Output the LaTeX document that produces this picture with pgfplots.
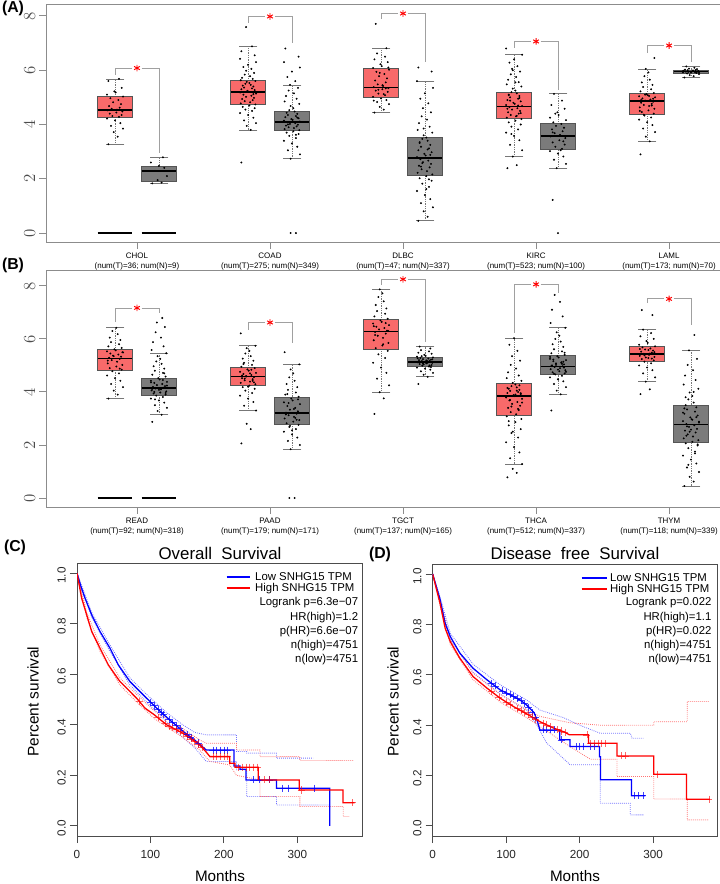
\documentclass[border=0pt]{standalone}
\usepackage{fontspec}
\setmainfont{Liberation Sans}
\usepackage{pgfplots}
\pgfplotsset{compat=1.18}

\definecolor{tumor}{HTML}{F86A6A}
\definecolor{normal}{HTML}{7B7B7B}
\definecolor{boxline}{HTML}{555555}
\definecolor{frame}{HTML}{8C8C8C}
\definecolor{brk}{HTML}{A0A0A0}

% box: xl xc xr | lower whisker, q1, median, q3, upper whisker | fill
\newcommand{\bx}[9]{%
  \addplot[boxline!80, densely dotted, line width=0.5pt] coordinates {(#2,#4) (#2,#5)};
  \addplot[boxline!80, densely dotted, line width=0.5pt] coordinates {(#2,#7) (#2,#8)};
  \addplot[boxline!80, only marks, mark=-, mark size=8pt, mark options={line width=0.6pt}] coordinates {(#2,#4) (#2,#8)};
  \addplot[draw=boxline, fill=#9, line width=0.6pt] coordinates {(#1,#5) (#3,#5) (#3,#7) (#1,#7)} --cycle;
  \addplot[black, line width=1.5pt] coordinates {(#1,#6) (#3,#6)};
}
% jittered samples: centre, table of offsets d and values v
\newcommand{\jit}[2]{\addplot[only marks, mark=*, mark size=0.6pt, black] table[row sep=\\, x expr=\thisrow{d}+#1, y=v] {#2};}
% significance bracket: tumour x, gap left, centre, gap right, normal x, top, left foot, right foot
\newcommand{\brk}[8]{%
  \addplot[brk, line width=0.7pt] coordinates {(#1,#7) (#1,#6) (#2,#6)};
  \addplot[brk, line width=0.7pt] coordinates {(#4,#6) (#5,#6) (#5,#8)};
  \addplot[red, only marks, mark=asterisk, mark size=2.8pt, mark options={line width=0.8pt}] coordinates {(#3,#6)};
}
\newcommand{\zl}[2]{\addplot[black, line width=1.6pt] coordinates {(#1,0) (#2,0)};}

\pgfplotsset{
  boxpanel/.style={
    scale only axis, width=20.28cm,
    xmin=0.316, xmax=5.398,
    axis line style={frame, line width=0.8pt},
    tick style={frame, line width=0.8pt},
    tick align=outside, tick pos=left, major tick length=0.2cm,
    xtick={1,2,3,4,5},
    ytick={0,2,4,6,8}, yticklabels={$0$,$2$,$4$,$6$,$8$},
    yticklabel style={rotate=90, anchor=south, font=\fontsize{15}{15}\selectfont, text=black!70},
    xticklabel style={align=center, font=\fontsize{6.8}{8.5}\selectfont},
    clip=false,
  },
  kmpanel/.style={
    scale only axis, width=8.55cm, height=8.19cm,
    xmin=0, xmax=388, ymin=-0.04, ymax=1.04,
    axis line style={black!70, line width=0.8pt},
    tick style={black!70, line width=0.8pt},
    tick align=outside, tick pos=left, major tick length=0.21cm,
    xtick={0,100,200,300}, xticklabels={0,100,200,300},
    ytick={0,0.2,0.4,0.6,0.8,1}, yticklabels={0.0,0.2,0.4,0.6,0.8,1.0},
    yticklabel style={rotate=90, anchor=south, xshift=-2pt},
    xticklabel style={yshift=-3pt},
    ticklabel style={font=\fontsize{10}{10}\selectfont, text=black!85},
  },
}

\begin{document}
\begin{tikzpicture}
\useasboundingbox (0,0) rectangle (21.6,-26.52);

% ============================== (A)
\begin{axis}[boxpanel, height=7.14cm, ymin=-0.33, ymax=8.44,
    at={(1.38cm,-7.26cm)}, anchor=south west,
    xticklabels={{CHOL\\(num(T)=36; num(N)=9)},{COAD\\(num(T)=275; num(N)=349)},{DLBC\\(num(T)=47; num(N)=337)},{KIRC\\(num(T)=523; num(N)=100)},{LAML\\(num(T)=173; num(N)=70)}}]
\bx{0.705}{0.835}{0.965}{3.27}{4.27}{4.54}{5.03}{5.68}{tumor}
\bx{1.035}{1.165}{1.295}{1.83}{1.89}{2.29}{2.47}{2.79}{normal}
\bx{1.705}{1.835}{1.965}{3.80}{4.75}{5.21}{5.63}{6.88}{tumor}
\bx{2.035}{2.165}{2.295}{2.74}{3.78}{4.08}{4.48}{5.46}{normal}
\bx{2.705}{2.835}{2.965}{4.44}{5.00}{5.36}{6.07}{6.81}{tumor}
\bx{3.035}{3.165}{3.295}{0.45}{2.14}{2.76}{3.52}{5.60}{normal}
\bx{3.705}{3.835}{3.965}{2.82}{4.21}{4.66}{5.18}{6.57}{tumor}
\bx{4.035}{4.165}{4.295}{2.39}{3.09}{3.57}{4.05}{5.13}{normal}
\bx{4.705}{4.835}{4.965}{3.38}{4.38}{4.87}{5.15}{6.05}{tumor}
\bx{5.035}{5.165}{5.295}{5.73}{5.89}{5.95}{6.01}{6.14}{normal}
% CHOL
\jit{0.835}{d v\\ -0.05 3.27\\ 0.02 3.55\\ -0.01 3.72\\ 0.06 3.85\\ -0.03 3.95\\ 0.04 4.05\\ 0.00 4.15\\ -0.06 4.22\\ 0.03 4.28\\ -0.02 4.31\\
0.05 4.35\\ -0.04 4.40\\ 0.01 4.44\\ 0.055 4.48\\ -0.055 4.52\\ 0.015 4.55\\ -0.025 4.58\\ 0.035 4.62\\ -0.045 4.68\\ 0.045 4.75\\
-0.015 4.82\\ 0.025 4.90\\ -0.035 4.97\\ 0.06 5.03\\ -0.06 5.10\\ 0.005 5.18\\ -0.005 5.22\\ 0.05 5.35\\ -0.05 5.60\\ 0.03 5.68\\}
\jit{1.165}{d v\\ -0.05 1.83\\ 0.02 1.86\\ -0.01 1.95\\ 0.06 2.10\\ -0.03 2.29\\ 0.04 2.40\\ 0.00 2.47\\ -0.06 2.60\\ 0.03 2.79\\}
% COAD
\jit{1.835}{d v\\ -0.05 2.60\\ 0.02 3.80\\ -0.01 3.95\\ 0.06 4.05\\ -0.03 4.15\\ 0.04 4.25\\ 0.00 4.35\\ -0.06 4.42\\ 0.03 4.50\\ -0.02 4.55\\
0.05 4.60\\ -0.04 4.65\\ 0.01 4.70\\ 0.055 4.74\\ -0.055 4.78\\ 0.015 4.82\\ -0.025 4.86\\ 0.035 4.90\\ -0.045 4.94\\ 0.045 4.98\\
-0.015 5.02\\ 0.025 5.06\\ -0.035 5.10\\ 0.06 5.14\\ -0.06 5.18\\ 0.005 5.21\\ -0.005 5.24\\ 0.05 5.27\\ -0.05 5.30\\ 0.03 5.33\\
-0.03 5.36\\ 0.04 5.40\\ -0.04 5.43\\ 0.02 5.46\\ -0.02 5.50\\ 0.01 5.53\\ -0.01 5.57\\ 0.055 5.60\\ -0.055 5.63\\ 0.035 5.68\\
-0.045 5.72\\ 0.015 5.78\\ -0.025 5.84\\ 0.045 5.90\\ -0.015 5.98\\ 0.025 6.05\\ -0.035 6.12\\ 0.00 6.20\\ 0.06 6.30\\ -0.06 6.42\\
0.05 6.55\\ -0.05 6.70\\ 0.03 6.88\\ -0.015 7.59\\ 0.04 5.12\\}
\jit{2.165}{d v\\ -0.01 0\\ 0.03 0\\ -0.01 2.74\\ 0.06 2.90\\ -0.03 3.05\\ 0.04 3.18\\ 0.00 3.30\\ -0.06 3.40\\ 0.03 3.50\\ -0.02 3.58\\
0.05 3.65\\ -0.04 3.70\\ 0.01 3.75\\ 0.055 3.79\\ -0.055 3.83\\ 0.015 3.87\\ -0.025 3.90\\ 0.035 3.93\\ -0.045 3.96\\ 0.045 3.99\\
-0.015 4.02\\ 0.025 4.05\\ -0.035 4.08\\ 0.06 4.11\\ -0.06 4.14\\ 0.005 4.17\\ -0.005 4.20\\ 0.05 4.23\\ -0.05 4.27\\ 0.03 4.31\\
-0.03 4.35\\ 0.04 4.39\\ -0.04 4.43\\ 0.02 4.48\\ -0.02 4.53\\ 0.01 4.60\\ -0.01 4.68\\ 0.055 4.76\\ -0.055 4.85\\ 0.035 4.95\\
-0.045 5.05\\ 0.015 5.15\\ -0.025 5.25\\ 0.045 5.35\\ -0.015 5.46\\ 0.025 5.60\\ -0.035 5.75\\ 0.00 5.95\\ 0.06 6.10\\ -0.06 6.30\\
0.05 6.50\\ -0.05 6.80\\ 0.03 3.62\\ -0.03 4.00\\ 0.04 4.25\\}
% DLBC
\jit{2.835}{d v\\ -0.05 4.44\\ 0.02 4.55\\ -0.01 4.65\\ 0.06 4.75\\ -0.03 4.83\\ 0.04 4.90\\ 0.00 4.96\\ -0.06 5.02\\ 0.03 5.08\\ -0.02 5.14\\
0.05 5.20\\ -0.04 5.25\\ 0.01 5.30\\ 0.055 5.34\\ -0.055 5.38\\ 0.015 5.42\\ -0.025 5.48\\ 0.035 5.55\\ -0.045 5.62\\ 0.045 5.70\\
-0.015 5.78\\ 0.025 5.86\\ -0.035 5.94\\ 0.06 6.02\\ -0.06 6.08\\ 0.005 6.15\\ -0.005 6.22\\ 0.05 6.30\\ -0.05 6.40\\ 0.03 6.50\\
-0.03 6.62\\ 0.04 6.81\\ -0.04 7.71\\ 0.02 5.12\\ -0.02 5.28\\ 0.01 5.45\\ -0.01 5.90\\ 0.055 6.10\\ -0.055 4.88\\ 0.035 5.33\\}
\jit{3.165}{d v\\ -0.05 0.45\\ 0.02 0.60\\ -0.01 0.80\\ 0.06 0.95\\ -0.03 1.10\\ 0.04 1.25\\ 0.00 1.40\\ -0.06 1.55\\ 0.03 1.70\\ -0.02 1.82\\
0.05 1.93\\ -0.04 2.02\\ 0.01 2.10\\ 0.055 2.16\\ -0.055 2.22\\ 0.015 2.28\\ -0.025 2.35\\ 0.035 2.42\\ -0.045 2.48\\ 0.045 2.55\\
-0.015 2.61\\ 0.025 2.67\\ -0.035 2.72\\ 0.06 2.76\\ -0.06 2.80\\ 0.005 2.86\\ -0.005 2.92\\ 0.05 2.98\\ -0.05 3.05\\ 0.03 3.12\\
-0.03 3.18\\ 0.04 3.25\\ -0.04 3.32\\ 0.02 3.40\\ -0.02 3.47\\ 0.01 3.52\\ -0.01 3.60\\ 0.055 3.70\\ -0.055 3.80\\ 0.035 3.92\\
-0.045 4.05\\ 0.015 4.18\\ -0.025 4.30\\ 0.045 4.45\\ -0.015 4.60\\ 0.025 4.78\\ -0.035 4.95\\ 0.00 5.15\\ 0.06 5.35\\ -0.06 5.60\\
0.05 5.95\\ -0.05 6.10\\ 0.03 1.98\\ -0.03 2.45\\ 0.04 2.88\\ -0.04 3.35\\ 0.02 3.08\\ -0.02 2.58\\ 0.01 1.62\\ -0.01 3.85\\}
% KIRC
\jit{3.835}{d v\\ -0.05 2.39\\ 0.02 2.50\\ -0.01 2.82\\ 0.06 3.05\\ -0.03 3.25\\ 0.04 3.42\\ 0.00 3.58\\ -0.06 3.70\\ 0.03 3.82\\ -0.02 3.92\\
0.05 4.00\\ -0.04 4.08\\ 0.01 4.14\\ 0.055 4.20\\ -0.055 4.25\\ 0.015 4.30\\ -0.025 4.35\\ 0.035 4.40\\ -0.045 4.45\\ 0.045 4.50\\
-0.015 4.55\\ 0.025 4.60\\ -0.035 4.64\\ 0.06 4.68\\ -0.06 4.72\\ 0.005 4.76\\ -0.005 4.80\\ 0.05 4.85\\ -0.05 4.90\\ 0.03 4.95\\
-0.03 5.00\\ 0.04 5.05\\ -0.04 5.10\\ 0.02 5.15\\ -0.02 5.19\\ 0.01 5.25\\ -0.01 5.32\\ 0.055 5.40\\ -0.055 5.48\\ 0.035 5.56\\
-0.045 5.65\\ 0.015 5.75\\ -0.025 5.85\\ 0.045 5.95\\ -0.015 6.05\\ 0.025 6.15\\ -0.035 6.28\\ 0.00 6.40\\ 0.06 6.57\\ -0.06 6.80\\
0.05 4.42\\ -0.05 4.58\\ 0.03 4.70\\ -0.03 4.88\\ 0.04 4.98\\ -0.04 5.08\\ 0.02 4.32\\ -0.02 3.65\\ 0.01 5.55\\ -0.01 6.00\\}
\jit{4.165}{d v\\ 0.00 0.00\\ -0.04 1.22\\ -0.01 2.39\\ 0.06 2.55\\ -0.03 2.70\\ 0.04 2.82\\ 0.00 2.93\\ -0.06 3.02\\ 0.03 3.10\\ -0.02 3.18\\
0.05 3.26\\ -0.04 3.34\\ 0.01 3.42\\ 0.055 3.50\\ -0.055 3.56\\ 0.015 3.62\\ -0.025 3.68\\ 0.035 3.75\\ -0.045 3.82\\ 0.045 3.88\\
-0.015 3.95\\ 0.025 4.02\\ -0.035 4.08\\ 0.06 4.16\\ -0.06 4.25\\ 0.005 4.35\\ -0.005 4.45\\ 0.05 4.58\\ -0.05 4.72\\ 0.03 4.88\\
-0.03 5.13\\ 0.04 3.38\\ -0.04 3.71\\ 0.02 3.05\\ -0.02 4.40\\}
% LAML
\jit{4.835}{d v\\ -0.05 2.90\\ 0.02 3.38\\ -0.01 3.55\\ 0.06 3.72\\ -0.03 3.85\\ 0.04 3.98\\ 0.00 4.08\\ -0.06 4.18\\ 0.03 4.26\\ -0.02 4.33\\
0.05 4.40\\ -0.04 4.46\\ 0.01 4.52\\ 0.055 4.58\\ -0.055 4.63\\ 0.015 4.68\\ -0.025 4.72\\ 0.035 4.76\\ -0.045 4.80\\ 0.045 4.84\\
-0.015 4.88\\ 0.025 4.92\\ -0.035 4.96\\ 0.06 5.00\\ -0.06 5.04\\ 0.005 5.08\\ -0.005 5.12\\ 0.05 5.16\\ -0.05 5.22\\ 0.03 5.30\\
-0.03 5.38\\ 0.04 5.46\\ -0.04 5.55\\ 0.02 5.65\\ -0.02 5.78\\ 0.01 5.92\\ -0.01 6.05\\ 0.055 6.45\\ -0.055 4.50\\ 0.035 4.70\\
-0.045 4.90\\ 0.015 5.05\\ -0.025 4.36\\ 0.045 4.95\\ -0.015 5.10\\}
\jit{5.165}{d v\\ -0.05 5.73\\ 0.02 5.78\\ -0.01 5.82\\ 0.06 5.86\\ -0.03 5.88\\ 0.04 5.90\\ 0.00 5.91\\ -0.06 5.92\\ 0.03 5.93\\ -0.02 5.94\\
0.05 5.95\\ -0.04 5.95\\ 0.01 5.96\\ 0.055 5.97\\ -0.055 5.98\\ 0.015 5.99\\ -0.025 6.00\\ 0.035 6.01\\ -0.045 6.02\\ 0.045 6.04\\
-0.015 6.06\\ 0.025 6.09\\ -0.035 6.14\\ 0.06 5.93\\ -0.06 5.97\\}
\zl{0.705}{0.965}
\zl{1.035}{1.295}
\brk{0.835}{0.965}{1}{1.035}{1.165}{6.08}{5.83}{2.94}
\brk{1.835}{1.965}{2}{2.035}{2.165}{7.98}{7.74}{7.00}
\brk{2.835}{2.965}{3}{3.035}{3.165}{8.09}{7.89}{6.32}
\brk{3.835}{3.965}{4}{4.035}{4.165}{7.06}{6.82}{5.28}
\brk{4.835}{4.965}{5}{5.035}{5.165}{6.91}{6.63}{6.32}
\end{axis}

% ============================== (B)
\begin{axis}[boxpanel, height=7.11cm, ymin=-0.34, ymax=8.6,
    at={(1.38cm,-15.21cm)}, anchor=south west,
    xticklabels={{READ\\(num(T)=92; num(N)=318)},{PAAD\\(num(T)=179; num(N)=171)},{TGCT\\(num(T)=137; num(N)=165)},{THCA\\(num(T)=512; num(N)=337)},{THYM\\(num(T)=118; num(N)=339)}}]
\bx{0.705}{0.835}{0.965}{3.75}{4.81}{5.26}{5.61}{6.42}{tumor}
\bx{1.035}{1.165}{1.295}{3.14}{3.86}{4.15}{4.52}{5.46}{normal}
\bx{1.705}{1.835}{1.965}{3.30}{4.24}{4.58}{4.92}{5.74}{tumor}
\bx{2.035}{2.165}{2.295}{1.84}{2.79}{3.21}{3.81}{5.04}{normal}
\bx{2.705}{2.835}{2.965}{3.99}{5.61}{6.28}{6.74}{7.87}{tumor}
\bx{3.035}{3.165}{3.295}{4.57}{4.96}{5.14}{5.30}{5.71}{normal}
\bx{3.705}{3.835}{3.965}{1.28}{3.11}{3.85}{4.33}{6.03}{tumor}
\bx{4.035}{4.165}{4.295}{3.91}{4.65}{4.96}{5.38}{6.42}{normal}
\bx{4.705}{4.835}{4.965}{4.39}{5.17}{5.42}{5.71}{6.35}{tumor}
\bx{5.035}{5.165}{5.295}{0.45}{2.11}{2.77}{3.51}{5.57}{normal}
% READ
\jit{0.835}{d v\\ -0.05 3.75\\ 0.02 3.90\\ -0.01 4.05\\ 0.06 4.18\\ -0.03 4.30\\ 0.04 4.42\\ 0.00 4.52\\ -0.06 4.62\\ 0.03 4.70\\ -0.02 4.78\\
0.05 4.84\\ -0.04 4.90\\ 0.01 4.96\\ 0.055 5.02\\ -0.055 5.08\\ 0.015 5.14\\ -0.025 5.20\\ 0.035 5.25\\ -0.045 5.29\\ 0.045 5.33\\
-0.015 5.37\\ 0.025 5.41\\ -0.035 5.45\\ 0.06 5.49\\ -0.06 5.53\\ 0.005 5.57\\ -0.005 5.61\\ 0.05 5.66\\ -0.05 5.72\\ 0.03 5.80\\
-0.03 5.88\\ 0.04 5.96\\ -0.04 6.05\\ 0.02 6.18\\ -0.02 6.30\\ 0.01 6.42\\ -0.01 5.35\\ 0.055 5.50\\ -0.055 5.18\\ 0.035 4.88\\}
\jit{1.165}{d v\\ -0.05 2.87\\ 0.02 3.14\\ -0.01 3.28\\ 0.06 3.40\\ -0.03 3.50\\ 0.04 3.60\\ 0.00 3.68\\ -0.06 3.75\\ 0.03 3.81\\ -0.02 3.86\\
0.05 3.90\\ -0.04 3.94\\ 0.01 3.98\\ 0.055 4.02\\ -0.055 4.06\\ 0.015 4.10\\ -0.025 4.13\\ 0.035 4.16\\ -0.045 4.19\\ 0.045 4.22\\
-0.015 4.26\\ 0.025 4.30\\ -0.035 4.34\\ 0.06 4.38\\ -0.06 4.42\\ 0.005 4.47\\ -0.005 4.52\\ 0.05 4.58\\ -0.05 4.65\\ 0.03 4.72\\
-0.03 4.80\\ 0.04 4.88\\ -0.04 4.97\\ 0.02 5.06\\ -0.02 5.15\\ 0.01 5.25\\ -0.01 5.35\\ 0.055 5.46\\ -0.055 5.58\\ 0.035 5.72\\
-0.045 5.88\\ 0.015 6.05\\ -0.025 6.25\\ 0.045 6.45\\ -0.015 6.62\\ 0.025 6.79\\ -0.035 4.00\\ 0.00 4.08\\ 0.06 4.24\\ -0.06 4.36\\
0.05 3.96\\ -0.05 4.12\\ 0.03 4.45\\ -0.03 3.72\\ 0.04 4.70\\}
% PAAD
\jit{1.835}{d v\\ -0.05 2.06\\ 0.02 2.60\\ -0.01 2.80\\ 0.06 3.30\\ -0.03 3.48\\ 0.04 3.62\\ 0.00 3.75\\ -0.06 3.86\\ 0.03 3.96\\ -0.02 4.05\\
0.05 4.12\\ -0.04 4.18\\ 0.01 4.24\\ 0.055 4.29\\ -0.055 4.34\\ 0.015 4.39\\ -0.025 4.44\\ 0.035 4.48\\ -0.045 4.52\\ 0.045 4.56\\
-0.015 4.60\\ 0.025 4.64\\ -0.035 4.68\\ 0.06 4.72\\ -0.06 4.76\\ 0.005 4.80\\ -0.005 4.85\\ 0.05 4.90\\ -0.05 4.95\\ 0.03 5.02\\
-0.03 5.10\\ 0.04 5.18\\ -0.04 5.26\\ 0.02 5.35\\ -0.02 5.45\\ 0.01 5.55\\ -0.01 5.65\\ 0.055 5.74\\ -0.055 6.21\\ 0.035 4.42\\
-0.045 4.62\\ 0.015 4.70\\ -0.025 4.50\\ 0.045 4.36\\ -0.015 4.58\\ 0.025 4.84\\ -0.035 5.05\\ 0.00 4.20\\}
\jit{2.165}{d v\\ -0.02 0\\ 0.02 0\\ -0.01 1.84\\ 0.06 2.00\\ -0.03 2.15\\ 0.04 2.28\\ 0.00 2.40\\ -0.06 2.50\\ 0.03 2.60\\ -0.02 2.68\\
0.05 2.76\\ -0.04 2.82\\ 0.01 2.88\\ 0.055 2.94\\ -0.055 3.00\\ 0.015 3.06\\ -0.025 3.12\\ 0.035 3.18\\ -0.045 3.22\\ 0.045 3.27\\
-0.015 3.33\\ 0.025 3.40\\ -0.035 3.47\\ 0.06 3.54\\ -0.06 3.61\\ 0.005 3.68\\ -0.005 3.75\\ 0.05 3.82\\ -0.05 3.90\\ 0.03 3.98\\
-0.03 4.08\\ 0.04 4.18\\ -0.04 4.30\\ 0.02 4.42\\ -0.02 4.55\\ 0.01 4.70\\ -0.01 4.85\\ 0.055 5.04\\ -0.055 5.50\\ 0.035 2.95\\
-0.045 3.15\\ 0.015 3.36\\ -0.025 3.58\\ 0.045 3.72\\ -0.015 2.72\\ 0.025 3.02\\ -0.035 3.92\\ 0.00 2.55\\}
% TGCT
\jit{2.835}{d v\\ -0.05 3.17\\ 0.02 3.76\\ -0.01 3.99\\ 0.06 4.25\\ -0.03 4.50\\ 0.04 4.72\\ 0.00 4.92\\ -0.06 5.10\\ 0.03 5.28\\ -0.02 5.42\\
0.05 5.55\\ -0.04 5.65\\ 0.01 5.75\\ 0.055 5.85\\ -0.055 5.95\\ 0.015 6.04\\ -0.025 6.12\\ 0.035 6.20\\ -0.045 6.26\\ 0.045 6.31\\
-0.015 6.36\\ 0.025 6.41\\ -0.035 6.46\\ 0.06 6.52\\ -0.06 6.58\\ 0.005 6.64\\ -0.005 6.70\\ 0.05 6.76\\ -0.05 6.85\\ 0.03 6.95\\
-0.03 7.05\\ 0.04 7.15\\ -0.04 7.28\\ 0.02 7.42\\ -0.02 7.58\\ 0.01 7.72\\ -0.01 7.87\\ 0.055 6.30\\ -0.055 6.48\\ 0.035 6.60\\
-0.045 6.15\\ 0.015 5.80\\}
\jit{3.165}{d v\\ -0.05 4.30\\ 0.02 4.57\\ -0.01 4.65\\ 0.06 4.72\\ -0.03 4.78\\ 0.04 4.84\\ 0.00 4.88\\ -0.06 4.92\\ 0.03 4.96\\ -0.02 4.99\\
0.05 5.02\\ -0.04 5.05\\ 0.01 5.08\\ 0.055 5.10\\ -0.055 5.12\\ 0.015 5.14\\ -0.025 5.16\\ 0.035 5.18\\ -0.045 5.20\\ 0.045 5.22\\
-0.015 5.24\\ 0.025 5.26\\ -0.035 5.28\\ 0.06 5.30\\ -0.06 5.33\\ 0.005 5.36\\ -0.005 5.40\\ 0.05 5.44\\ -0.05 5.48\\ 0.03 5.53\\
-0.03 5.58\\ 0.04 5.64\\ -0.04 5.71\\ 0.02 5.10\\ -0.02 5.15\\ 0.01 5.19\\ -0.01 5.04\\ 0.055 5.23\\ -0.055 5.27\\ 0.035 5.00\\
-0.045 5.12\\ 0.015 5.17\\ -0.025 5.35\\ 0.045 4.94\\ -0.015 5.07\\}
% THCA
\jit{3.835}{d v\\ -0.05 0.78\\ 0.02 0.95\\ -0.01 1.10\\ 0.06 1.28\\ -0.03 1.50\\ 0.04 1.72\\ 0.00 1.92\\ -0.06 2.10\\ 0.03 2.28\\ -0.02 2.45\\
0.05 2.60\\ -0.04 2.74\\ 0.01 2.86\\ 0.055 2.98\\ -0.055 3.08\\ 0.015 3.16\\ -0.025 3.24\\ 0.035 3.32\\ -0.045 3.40\\ 0.045 3.48\\
-0.015 3.55\\ 0.025 3.62\\ -0.035 3.68\\ 0.06 3.74\\ -0.06 3.79\\ 0.005 3.84\\ -0.005 3.88\\ 0.05 3.92\\ -0.05 3.96\\ 0.03 4.00\\
-0.03 4.04\\ 0.04 4.08\\ -0.04 4.12\\ 0.02 4.17\\ -0.02 4.22\\ 0.01 4.28\\ -0.01 4.34\\ 0.055 4.42\\ -0.055 4.52\\ 0.035 4.62\\
-0.045 4.74\\ 0.015 4.88\\ -0.025 5.02\\ 0.045 5.18\\ -0.015 5.35\\ 0.025 5.55\\ -0.035 5.78\\ 0.00 6.03\\ 0.06 3.60\\ -0.06 3.82\\
0.05 3.95\\ -0.05 4.15\\ 0.03 3.36\\ -0.03 3.70\\ 0.04 4.25\\ -0.04 2.90\\ 0.02 4.05\\ -0.02 3.45\\ 0.01 3.90\\ -0.01 2.50\\}
\jit{4.165}{d v\\ -0.05 3.30\\ 0.02 3.91\\ -0.01 4.05\\ 0.06 4.18\\ -0.03 4.30\\ 0.04 4.40\\ 0.00 4.48\\ -0.06 4.55\\ 0.03 4.61\\ -0.02 4.66\\
0.05 4.70\\ -0.04 4.74\\ 0.01 4.78\\ 0.055 4.82\\ -0.055 4.86\\ 0.015 4.90\\ -0.025 4.94\\ 0.035 4.97\\ -0.045 5.00\\ 0.045 5.04\\
-0.015 5.08\\ 0.025 5.12\\ -0.035 5.16\\ 0.06 5.20\\ -0.06 5.25\\ 0.005 5.30\\ -0.005 5.35\\ 0.05 5.40\\ -0.05 5.46\\ 0.03 5.53\\
-0.03 5.61\\ 0.04 5.70\\ -0.04 5.80\\ 0.02 5.90\\ -0.02 6.00\\ 0.01 6.12\\ -0.01 6.25\\ 0.055 6.42\\ -0.055 6.60\\ 0.035 6.85\\
-0.045 7.10\\ 0.015 7.40\\ -0.025 7.66\\ 0.045 4.92\\ -0.015 5.02\\ 0.025 5.10\\ -0.035 5.22\\ 0.00 4.84\\ 0.06 4.76\\ -0.06 5.32\\
0.05 5.48\\ -0.05 4.98\\ 0.03 5.06\\ -0.03 4.68\\ 0.04 5.14\\}
% THYM
\jit{4.835}{d v\\ -0.05 3.92\\ 0.02 4.10\\ -0.01 4.39\\ 0.06 4.55\\ -0.03 4.70\\ 0.04 4.82\\ 0.00 4.92\\ -0.06 5.00\\ 0.03 5.08\\ -0.02 5.14\\
0.05 5.19\\ -0.04 5.24\\ 0.01 5.28\\ 0.055 5.32\\ -0.055 5.36\\ 0.015 5.40\\ -0.025 5.44\\ 0.035 5.48\\ -0.045 5.52\\ 0.045 5.56\\
-0.015 5.60\\ 0.025 5.64\\ -0.035 5.68\\ 0.06 5.72\\ -0.06 5.78\\ 0.005 5.85\\ -0.005 5.92\\ 0.05 6.00\\ -0.05 6.10\\ 0.03 6.22\\
-0.03 6.35\\ 0.04 6.90\\ -0.04 7.09\\ 0.02 5.45\\ -0.02 5.38\\ 0.01 5.58\\ -0.01 5.30\\ 0.055 5.50\\ -0.055 5.62\\ 0.035 5.26\\}
\jit{5.165}{d v\\ -0.05 0.45\\ 0.02 0.62\\ -0.01 0.80\\ 0.06 0.98\\ -0.03 1.15\\ 0.04 1.30\\ 0.00 1.45\\ -0.06 1.60\\ 0.03 1.75\\ -0.02 1.88\\
0.05 1.98\\ -0.04 2.06\\ 0.01 2.12\\ 0.055 2.18\\ -0.055 2.25\\ 0.015 2.32\\ -0.025 2.40\\ 0.035 2.47\\ -0.045 2.54\\ 0.045 2.61\\
-0.015 2.68\\ 0.025 2.74\\ -0.035 2.79\\ 0.06 2.84\\ -0.06 2.90\\ 0.005 2.97\\ -0.005 3.04\\ 0.05 3.11\\ -0.05 3.18\\ 0.03 3.26\\
-0.03 3.34\\ 0.04 3.42\\ -0.04 3.50\\ 0.02 3.60\\ -0.02 3.72\\ 0.01 3.85\\ -0.01 3.98\\ 0.055 4.12\\ -0.055 4.28\\ 0.035 4.45\\
-0.045 4.62\\ 0.015 4.82\\ -0.025 5.02\\ 0.045 5.25\\ -0.015 5.57\\ 0.025 6.15\\ -0.035 2.35\\ 0.00 2.58\\ 0.06 2.88\\ -0.06 3.22\\
0.05 2.02\\ -0.05 3.38\\ 0.03 1.68\\ -0.03 2.70\\ 0.04 3.05\\ -0.04 3.80\\ 0.02 4.00\\ -0.02 1.25\\ 0.01 2.95\\ -0.01 2.50\\}
\zl{0.705}{0.965}
\zl{1.035}{1.295}
\brk{0.835}{0.965}{1}{1.035}{1.165}{7.17}{6.63}{6.97}
\brk{1.835}{1.965}{2}{2.035}{2.165}{6.62}{6.34}{5.84}
\brk{2.835}{2.965}{3}{3.035}{3.165}{8.25}{8.04}{5.90}
\brk{3.835}{3.965}{4}{4.035}{4.165}{8.06}{6.24}{7.72}
\brk{4.835}{4.965}{5}{5.035}{5.165}{7.51}{7.35}{6.53}
\end{axis}

% ============================== (C) overall survival
\begin{axis}[kmpanel, at={(2.31cm,-25.08cm)}, anchor=south west]
% confidence bands
\addplot[blue!55, densely dotted, line width=0.7pt] coordinates {(0,1)(20,0.845)(44.9,0.715)(72.1,0.585)(94.8,0.52)(122,0.448)(144,0.40)(160,0.37)(176,0.36)(217,0.36)(217,0.294)(231,0.294)(231,0.288)(271.6,0.288)(271.6,0.268)(321.5,0.268)};
\addplot[blue!55, densely dotted, line width=0.7pt] coordinates {(0,1)(20,0.825)(44.9,0.69)(72.1,0.557)(94.8,0.49)(122,0.41)(144,0.35)(160,0.31)(176,0.255)(217,0.255)(217,0.222)(231,0.222)(231,0.116)(271.6,0.116)(271.6,0.083)(344,0.083)};
\addplot[red!55, densely dotted, line width=0.7pt] coordinates {(0,1)(13.2,0.845)(31.3,0.715)(58.5,0.585)(81.2,0.52)(105,0.455)(144,0.385)(167,0.34)(176,0.327)(217,0.327)(217,0.30)(249,0.30)(249,0.274)(303.4,0.274)(303.4,0.259)(376,0.259)};
\addplot[red!55, densely dotted, line width=0.7pt] coordinates {(0,1)(13.2,0.825)(31.3,0.69)(58.5,0.557)(81.2,0.49)(105,0.425)(144,0.35)(167,0.30)(181,0.255)(208,0.241)(217,0.20)(249,0.182)(249,0.116)(303.4,0.116)(303.4,0.077)(362.4,0.077)(362.4,0.037)(371,0.037)};
% curves
\addplot[blue, line width=1.1pt] coordinates {(0,1)(5,0.95)(10.9,0.901)(20,0.835)(31.3,0.769)(44.9,0.703)(56.2,0.637)(72.1,0.571)(94.8,0.505)(108.4,0.466)(122,0.43)(144,0.375)(160,0.34)(172,0.31)(176,0.30)(213.6,0.30)(213.6,0.237)(221.8,0.237)(221.8,0.224)(230,0.224)(230,0.182)(271.6,0.182)(271.6,0.149)(344,0.149)(344,0)};
\addplot[red, line width=1.1pt] coordinates {(0,1)(6.3,0.901)(13.2,0.835)(20,0.769)(31.3,0.703)(42.6,0.637)(58.5,0.571)(81.2,0.505)(92.5,0.466)(105,0.44)(122,0.40)(144,0.367)(167,0.32)(175,0.295)(181,0.274)(208,0.274)(208,0.248)(215,0.248)(215,0.232)(246.7,0.232)(246.7,0.182)(302.5,0.182)(302.5,0.142)(362,0.142)(362,0.092)(378,0.092)};
% censoring
\addplot[blue, only marks, mark=+, mark size=3pt, opacity=0.75] coordinates {(100,0.49)(105,0.476)(110,0.462)(115,0.448)(118,0.44)(125,0.422)(130,0.41)(135,0.398)(140,0.385)(150,0.362)(155,0.351)(165,0.328)(185,0.30)(190,0.30)(195,0.30)(200,0.30)(205,0.30)(240,0.182)(248,0.182)(262,0.182)(280,0.149)(287,0.149)(323,0.149)};
\addplot[red, only marks, mark=+, mark size=3pt, opacity=0.6] coordinates {(85,0.492)(110,0.428)(120,0.405)(125,0.395)(130,0.388)(135,0.381)(140,0.373)(145,0.365)(150,0.355)(155,0.344)(160,0.334)(165,0.324)(170,0.311)(185,0.274)(190,0.274)(195,0.274)(200,0.274)(205,0.274)(220,0.232)(225,0.232)(230,0.232)(235,0.232)(240,0.232)(245,0.232)(255,0.182)(262,0.182)(305,0.142)(375,0.092)};
\end{axis}

% ============================== (D) disease free survival
\begin{axis}[kmpanel, height=8.16cm, at={(12.98cm,-25.08cm)}, anchor=south west]
\addplot[blue!55, densely dotted, line width=0.7pt] coordinates {(0,1)(10,0.91)(24,0.765)(55,0.642)(92,0.56)(128,0.50)(146,0.46)(178,0.43)(200,0.40)(228,0.368)(269,0.368)(271.4,0.348)(287,0.348)};
\addplot[blue!55, densely dotted, line width=0.7pt] coordinates {(0,1)(10,0.89)(24,0.74)(55,0.61)(92,0.523)(128,0.46)(142,0.40)(155,0.33)(187,0.243)(228,0.243)(228,0.09)(269,0.09)(269,0.044)(287,0.044)};
\addplot[red!55, densely dotted, line width=0.7pt] coordinates {(0,1)(10,0.895)(24,0.745)(55,0.607)(92,0.522)(128,0.462)(146,0.435)(186,0.41)(228,0.40)(301,0.40)(301,0.414)(346.4,0.414)(346.4,0.494)(376,0.494)};
\addplot[red!55, densely dotted, line width=0.7pt] coordinates {(0,1)(10,0.875)(24,0.72)(55,0.58)(92,0.492)(128,0.43)(146,0.395)(187,0.315)(214.6,0.265)(250.9,0.265)(250.9,0.196)(301,0.196)(301,0.107)(346.4,0.107)(346.4,0.024)(376,0.024)};
\addplot[blue, line width=1.1pt] coordinates {(0,1)(10,0.90)(17,0.805)(24,0.752)(37,0.686)(55,0.626)(74,0.58)(92,0.54)(110,0.514)(119,0.50)(128,0.48)(138,0.45)(142,0.421)(146,0.381)(173,0.381)(173,0.342)(187,0.342)(187,0.315)(227,0.315)(227,0.275)(228.4,0.275)(228.4,0.183)(270.5,0.183)(270.5,0.12)(289.6,0.12)};
\addplot[red, line width=1.1pt] coordinates {(0,1)(10,0.885)(17,0.785)(24,0.732)(37,0.666)(55,0.593)(74,0.547)(92,0.507)(110,0.474)(128,0.445)(146,0.414)(165,0.388)(180,0.372)(186,0.362)(212,0.362)(212,0.328)(251,0.328)(251,0.278)(301,0.278)(301,0.205)(345.6,0.205)(345.6,0.106)(377.4,0.106)};
\addplot[blue, only marks, mark=+, mark size=3pt, opacity=0.75] coordinates {(80,0.567)(85,0.556)(95,0.536)(100,0.528)(105,0.521)(110,0.514)(115,0.506)(120,0.498)(125,0.487)(130,0.472)(135,0.45)(140,0.43)(150,0.381)(155,0.381)(160,0.381)(165,0.381)(175,0.342)(195,0.315)(200,0.315)(205,0.315)(215,0.315)(220,0.315)(275,0.12)(280,0.12)(286,0.12)};
\addplot[red, only marks, mark=+, mark size=3pt, opacity=0.6] coordinates {(80,0.534)(90,0.511)(100,0.492)(105,0.483)(115,0.466)(120,0.458)(125,0.45)(130,0.442)(135,0.433)(140,0.424)(150,0.408)(155,0.401)(160,0.395)(170,0.383)(175,0.377)(180,0.372)(210,0.362)(215,0.328)(220,0.328)(225,0.328)(230,0.328)(235,0.328)(257,0.278)(262,0.278)(306,0.205)(376,0.106)};
\end{axis}

% ============================== text around the panels
\node[font=\bfseries\fontsize{13.5}{14}\selectfont] at (0.39,-0.24) {(A)};
\node[font=\bfseries\fontsize{13.5}{14}\selectfont] at (0.39,-7.95) {(B)};
\node[font=\bfseries\fontsize{13.5}{14}\selectfont] at (0.45,-16.41) {(C)};
\node[font=\bfseries\fontsize{13.5}{14}\selectfont] at (11.4,-16.62) {(D)};

\node[font=\fontsize{14.4}{16}\selectfont] at (6.6,-16.59) {Overall\ \ Survival};
\node[font=\fontsize{14.4}{16}\selectfont] at (17.25,-16.59) {Disease\ \ free\ \ Survival};
\node[font=\fontsize{13}{14}\selectfont, inner sep=1pt] at (6.6,-26.27) {Months};
\node[font=\fontsize{13}{14}\selectfont, inner sep=1pt] at (17.25,-26.27) {Months};
\node[rotate=90, font=\fontsize{13.2}{14}\selectfont] at (0.99,-21.05) {Percent survival};
\node[rotate=90, font=\fontsize{13.2}{14}\selectfont] at (11.79,-21.05) {Percent survival};

% legend (C)
\draw[blue, line width=1.5pt] (6.80,-17.30) -- (7.50,-17.30);
\draw[red, line width=1.5pt] (6.80,-17.65) -- (7.50,-17.65);
\begin{scope}[every node/.style={inner sep=0pt, font=\fontsize{9.7}{11}\selectfont}]
\node[anchor=west] at (7.65,-17.30) {Low SNHG15 TPM};
\node[anchor=west] at (7.65,-17.65) {High SNHG15 TPM};
\node[anchor=east] at (10.75,-18.08) {Logrank p=6.3e−07};
\node[anchor=east] at (10.75,-18.52) {HR(high)=1.2};
\node[anchor=east] at (10.75,-18.95) {p(HR)=6.6e−07};
\node[anchor=east] at (10.75,-19.38) {n(high)=4751};
\node[anchor=east] at (10.75,-19.80) {n(low)=4751};
\end{scope}
% legend (D)
\draw[blue, line width=1.5pt] (17.45,-17.33) -- (18.20,-17.33);
\draw[red, line width=1.5pt] (17.45,-17.68) -- (18.20,-17.68);
\begin{scope}[every node/.style={inner sep=0pt, font=\fontsize{9.7}{11}\selectfont}]
\node[anchor=west] at (18.30,-17.33) {Low SNHG15 TPM};
\node[anchor=west] at (18.30,-17.68) {High SNHG15 TPM};
\node[anchor=east] at (21.35,-18.08) {Logrank p=0.022};
\node[anchor=east] at (21.35,-18.52) {HR(high)=1.1};
\node[anchor=east] at (21.35,-18.95) {p(HR)=0.022};
\node[anchor=east] at (21.35,-19.38) {n(high)=4751};
\node[anchor=east] at (21.35,-19.80) {n(low)=4751};
\end{scope}
\end{tikzpicture}
\end{document}
